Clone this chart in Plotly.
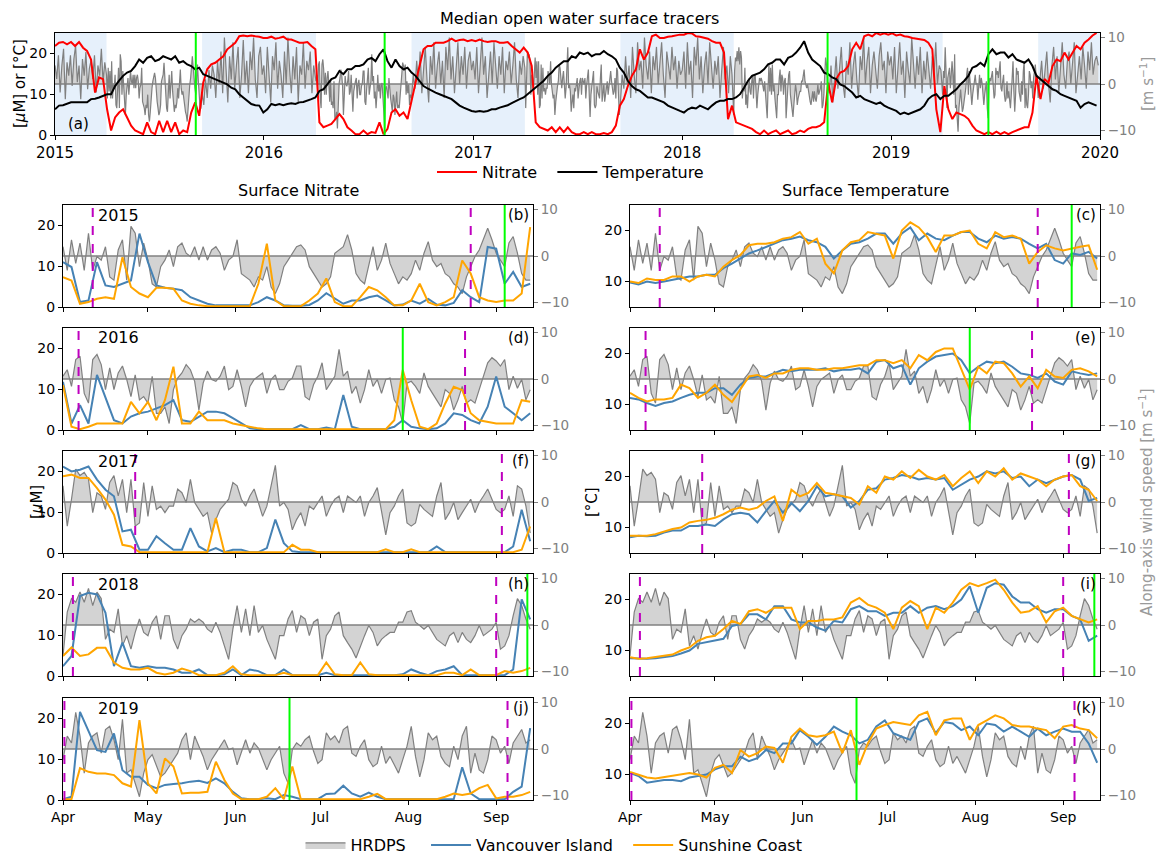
import pandas as pd
import plotly.graph_objects as go

# ---------------------------------------------------------------- data
YEARS = [2015, 2016, 2017, 2018, 2019]
YEAR_TICKS = [2015, 2016, 2017, 2018, 2019, 2020]
MONTH_LABELS = ["Apr", "May", "Jun", "Jul", "Aug", "Sep"]
MONTH_NUMS = [4, 5, 6, 7, 8, 9]

# top panel: weekly from 2015-01-01
TOP_NITRATE = [
    21.8, 22.6, 22.8, 22.2, 22.8, 21.8, 22.8, 21.4, 20.6, 18.5,
    10.4, 14.1, 13.7, 6.3, 1.1, 4.3, 5.5, 6.3, 4.3, 2.3,
    1.1, 0.7, 0.2, 3.1, 0.7, 0.2, 3.5, 0.7, 3.5, 0.7,
    3.1, 0.2, 1.1, 0.7, 5.5, 8.0, 4.7, 12.8, 16.1, 17.3,
    17.7, 18.5, 19.3, 21.0, 21.8, 22.6, 24.2, 24.4, 24.2, 24.4,
    24.2, 24.1, 23.8,
    23.8, 24.1, 23.6, 23.8, 24.1, 23.4, 23.4, 23.0, 22.6, 22.6,
    22.8, 21.8, 21.0, 3.1, 1.9, 2.3, 2.7, 3.9, 5.1, 3.9,
    1.9, 1.1, 0.2, 0.2, 1.1, 0.2, 0.7, 0.5, 3.1, 0.2,
    1.5, 5.5, 6.3, 4.7, 5.5, 3.9, 8.8, 12.8, 16.9, 21.0,
    21.8, 21.8, 22.6, 22.6, 22.6, 23.0, 23.6, 23.0, 23.3, 23.4,
    23.0, 23.3,
    23.0, 23.4, 23.0, 22.8, 23.0, 23.0, 22.6, 22.6, 22.8, 21.8,
    21.0, 20.2, 21.4, 20.2, 16.9, 3.1, 1.9, 1.5, 1.1, 1.9,
    0.7, 1.9, 0.7, 1.9, 0.7, 0.2, 0.2, 0.7, 0.2, 0.7,
    0.2, 0.2, 0.5, 0.2, 0.7, 2.3, 7.2, 8.8, 12.0, 14.5,
    16.1, 21.0, 18.5, 20.2, 24.2, 24.6, 23.8, 23.8, 24.1, 24.2,
    24.4, 24.6,
    24.6, 25.0, 24.9, 24.2, 24.1, 23.8, 23.6, 23.0, 22.6, 22.6,
    20.2, 3.9, 7.2, 3.1, 2.7, 2.3, 1.9, 1.5, 0.7, 0.2,
    1.1, 0.2, 0.7, 1.1, 0.2, 0.7, 1.1, 0.2, 0.5, 1.1,
    0.7, 1.5, 1.9, 1.9, 2.3, 3.1, 12.8, 8.0, 13.7, 15.3,
    15.7, 16.9, 21.0, 22.6, 21.0, 24.2, 24.6, 24.2, 25.0, 24.6,
    24.9, 24.6,
    24.9, 24.4, 24.6, 24.2, 24.1, 23.8, 23.6, 23.4, 23.3, 22.6,
    21.0, 6.3, 0.7, 12.0, 6.3, 3.9, 5.5, 5.1, 4.7, 3.9,
    2.3, 1.1, 0.7, 0.2, 0.7, 0.2, 0.8, 0.2, 0.7, 0.2,
    0.7, 1.1, 1.5, 1.9, 1.9, 5.5, 14.5, 8.8, 13.7, 12.8,
    16.9, 18.5, 18.1, 20.2, 18.5, 20.2, 21.8, 21.0, 22.6, 23.4,
    24.4, 25.0,
]
TOP_TEMPERATURE = [
    6.3, 7.2, 7.3, 7.6, 8.0, 8.0, 8.0, 8.1, 8.0, 8.8,
    8.9, 9.2, 9.6, 10.0, 10.0, 12.0, 13.3, 14.5, 15.3, 15.7,
    16.9, 18.5, 17.7, 18.9, 19.3, 18.1, 18.5, 19.3, 18.9, 18.5,
    19.3, 17.7, 18.1, 17.3, 16.9, 16.1, 16.5, 14.9, 14.5, 14.1,
    13.7, 13.3, 12.8, 12.4, 11.6, 11.2, 10.0, 9.2, 8.4, 7.6,
    7.3, 7.2, 5.5,
    6.3, 7.6, 7.3, 7.6, 7.3, 7.6, 7.8, 7.6, 8.0, 8.1,
    8.4, 8.8, 9.2, 10.8, 11.2, 12.4, 13.7, 14.1, 15.7, 14.9,
    16.1, 16.1, 16.9, 16.9, 17.3, 18.5, 18.9, 18.1, 19.8, 21.0,
    18.1, 16.5, 18.5, 16.9, 16.1, 16.5, 15.3, 14.5, 13.3, 12.0,
    11.4, 10.8, 10.4, 10.0, 9.6, 9.2, 8.8, 8.0, 7.2, 6.7,
    6.3, 5.9,
    5.7, 5.9, 5.7, 5.9, 6.3, 6.3, 6.7, 7.0, 7.3, 7.8,
    8.4, 8.8, 9.2, 10.0, 10.8, 11.6, 12.4, 13.3, 14.5, 15.3,
    16.5, 17.3, 18.1, 18.1, 19.3, 18.9, 20.2, 19.8, 20.2, 19.3,
    19.8, 19.8, 20.6, 19.8, 19.3, 18.5, 16.5, 15.3, 13.3, 12.0,
    11.2, 10.8, 10.0, 9.2, 9.2, 8.8, 8.4, 8.0, 7.2, 6.7,
    6.3, 5.9,
    5.5, 6.3, 6.7, 6.5, 7.2, 6.7, 6.3, 7.2, 8.0, 8.4,
    8.4, 8.8, 8.8, 9.2, 10.0, 11.6, 13.3, 14.5, 14.9, 15.3,
    16.1, 17.3, 17.7, 18.5, 18.5, 17.3, 18.9, 19.3, 20.2, 21.4,
    23.0, 20.2, 18.5, 17.7, 16.9, 15.3, 14.9, 14.1, 13.7, 12.4,
    12.0, 11.2, 10.4, 9.2, 9.6, 8.8, 8.4, 8.0, 7.6, 8.0,
    7.2, 6.7,
    6.3, 5.9, 5.1, 5.5, 5.1, 5.5, 5.9, 6.3, 7.2, 8.8,
    9.6, 10.0, 8.8, 9.6, 9.6, 10.4, 11.2, 12.4, 13.3, 14.5,
    16.5, 16.9, 17.7, 16.9, 19.8, 21.0, 19.8, 20.2, 20.2, 19.0,
    19.8, 18.5, 18.1, 17.7, 18.5, 16.9, 14.5, 13.7, 12.8, 12.0,
    11.2, 10.8, 10.0, 9.6, 9.2, 8.8, 8.4, 6.7, 7.6, 8.0,
    7.6, 7.2,
]

# HRDPS along-axis wind outside the Apr-Sep windows (3-day step)
WIND_2015_JAN_MAR = [4.0, 1.1, 6.2, -1.8, 4.0, 7.6, -3.3, 4.7, 1.8, 6.2, -0.4, 5.4, 8.3, 0.4, 4.0,
                     -3.3, 5.4, 1.8, 6.9, -1.1, 3.3, 5.1, 1.1, 6.2, -1.8, 4.0, 1.8, 7.6, 0.4, 4.7]
WIND_2015_SEP_DEC = [-2, -4.5, 1, -3, 3, -1, 4, 2, -3, 5, 0, 7, -2, 10, 3, -4, 6, 1, 9, -1,
                     4, 8, -3, 2, 9.5, 0, 5, -2, 7, 3, 10, 1, -3, 6, 8, 2]
WIND_2016_JAN_MAR = [4, -2, 8, 1, -4, 6, 3, 9, -1, 5, 2, -3, 7, 0, 10, 3, -2, 6, 1, 8,
                     -4, 4, 2, 9, -1, 5, 3, 7, -2, 4]
WIND_2016_SEP_DEC = [-3, 2, -1, 5, 0, 7, -2, 3, 8, 1, -4, 6, 2, 9, -1, 4, 7, 0, 5, -3,
                     8, 3, 10, 1, 6, -2, 4, 9, 0, 6, 2, 8, -1, 5, 7, 3]
WIND_2017_JAN_MAR = [5, 1, 8, -2, 4, 10, 2, 6, -3, 3, 7, 0, 9, 4, -1, 6, 2, 8, -2, 5,
                     3, 7, 0, 4, 9, 1, -3, 5, 2, 6]
WIND_2017_SEP_DEC = [-4, 2, -1, 6, 0, 4, -3, 8, 2, -2, 9, 3, 5, -1, 10, 4, 1, 7, -2, 6,
                     3, 8, 0, 5, 9, 2, -3, 7, 4, 1, 8, 3, 6, -1, 5, 2]
WIND_2018_JAN_MAR = [3, 7, -1, 9, 2, 5, -3, 8, 4, 10, 1, 6, -2, 4, 7, 0, 9, 3, -1, 5,
                     2, 6, -3, 3, 8, 1, 4, -2, 6, 2]
WIND_2018_SEP_DEC = [-2, 4, -4, 1, 6, -1, 3, 8, 0, -3, 5, 2, 9, -1, 4, 7, 1, -3, 6, 3,
                     10, 0, 5, 8, -2, 4, 7, 2, -1, 6, 9, 3, 5, -2, 7, 4]
WIND_2019_JAN_MAR = [6, 1, 8, -2, 4, 9, 2, 5, -3, 7, 3, 0, 10, 4, -1, 6, 2, 8, -2, 5,
                     1, 7, 3, -1, 6, 2, 9, 0, 4, 3]
WIND_2019_SEP_DEC = [-3, 2, 5, -1, 3, 7, 0, -4, 4, 8, 1, 6, -2, 3, 9, 2, -1, 5, 7, 0,
                     4, 9, -2, 3, 6, 1, 8, 4, -1, 7, 3, 9, 2, 5, 6, 4]

# HRDPS wind Apr 1 - Sep 14 (1.5-day step)
WIND_2015 = [
    2.0, -3.1, 3.5, -1.6, 2.8, -3.1, 4.9, -3.1, -0.1, -0.9,
    2.0, -4.5, -5.2, 1.3, 3.5, -5.2, 6.4, 4.9, -2.3, 2.8,
    -0.9, -6.0, -6.7, -2.3, -0.9, 1.3, -2.3, 2.0, 2.8, 0.6,
    -0.1, 2.0, -0.9, 2.0, -0.9, 1.3, 2.0, 0.6, -3.1, -0.9,
    -0.1, 3.5, -3.8, -4.5, -5.2, -6.7, -4.5, -5.2, -2.3, -6.7,
    -8.1, -6.0, -2.3, -0.9, 0.6, 2.0, 2.4, 1.3, -2.3, -3.8,
    -5.2, -6.7, -6.0, -4.5, 0.6, 1.3, 2.0, 4.6, 1.3, -3.8,
    -5.2, -6.0, -2.3, 2.0, -3.1, -0.9, 2.8, -1.6, -3.8, -6.0,
    -4.5, -5.2, -3.8, -0.9, -3.1, 0.6, 3.1, -0.9, -2.3, -1.6,
    -3.8, -4.5, -6.0, -6.7, -8.1, -4.5, -2.3, -0.1, 1.3, 3.5,
    6.0, 3.5, 0.6, -0.9, -2.3, 2.8, 4.2, 0.6, -3.8, -5.2,
    -5.2,
]
WIND_2016 = [
    0.6, 2.0, -1.6, 4.2, 4.9, -3.1, -5.2, 4.2, 5.3, 3.1,
    -2.3, 2.4, -2.3, 1.3, 2.8, -0.1, -3.8, 0.9, -4.5, -3.8,
    -5.2, 0.6, -7.4, -7.4, -6.0, -9.6, -2.3, 0.2, 1.3, 3.1,
    2.0, -0.5, -6.7, -0.9, 1.7, -0.1, -0.5, 0.6, 2.8, -2.3,
    -1.6, 2.0, -1.6, -6.0, -1.6, -0.1, 0.6, 1.3, -3.1, -0.1,
    0.9, -2.3, -2.3, -0.5, 0.2, 2.8, 2.8, -3.8, -4.5, -1.2,
    0.6, 3.5, -2.3, -0.9, 0.6, 6.4, 0.6, 1.7, -3.1, -1.6,
    -5.2, -2.3, 2.0, -1.6, -0.1, -3.1, -0.1, 0.2, -4.5, -6.0,
    -9.6, -0.9, -0.5, -1.6, -3.1, 1.3, -1.6, -3.1, -4.5, -6.0,
    -2.3, -3.1, -6.7, -4.5, -1.6, -5.2, -4.5, -5.2, -2.3, 0.6,
    3.5, 4.6, 3.9, 2.8, 4.2, -2.3, 0.6, -2.0, -0.1, -4.5,
    -2.3,
]
WIND_2017 = [
    3.5, -5.2, 0.6, 7.1, 5.7, 6.4, 4.9, -2.3, 2.0, 1.3,
    -1.6, 4.2, 5.7, 1.3, 4.9, -2.3, 4.9, -5.2, -4.5, 4.2,
    -3.1, 3.5, -1.6, -0.9, -2.3, -0.9, -0.9, 2.8, 2.0, -0.1,
    4.9, -0.1, -1.6, -3.1, -2.3, -6.7, -3.8, -1.6, -0.5, 0.6,
    4.2, 3.5, 0.6, -0.9, 1.3, 2.8, -0.1, -3.1, -0.9, 3.5,
    7.9, -0.9, -0.1, -1.6, -6.0, -3.8, -2.3, -5.2, -0.9, -1.6,
    -0.1, 1.3, -3.1, -0.9, 0.6, 1.3, -2.3, 1.3, 0.6, -0.1,
    1.3, -3.1, -0.1, 1.3, 3.1, -2.3, -7.1, -2.3, -0.9, 1.3,
    2.8, -4.5, -5.2, -4.5, -0.5, -1.6, -2.3, -3.1, 1.3, 4.2,
    -3.8, -2.3, -0.1, -3.8, -2.3, -0.9, 0.6, -2.3, -0.1, 1.3,
    2.8, 0.6, -1.6, -2.3, -1.6, 1.3, -3.1, 3.5, 2.8, -0.9,
    -6.7,
]
WIND_2018 = [
    -6.7, 2.8, 5.7, 4.9, 7.1, 4.9, 7.9, 4.2, 7.1, 5.7,
    -3.1, -0.9, -1.6, 3.5, -4.5, -2.3, -5.2, -1.6, 1.3, -1.6,
    -2.3, 0.6, 2.0, -3.1, 2.0, 2.0, -3.1, -5.2, -2.3, -0.9,
    1.3, 0.6, 1.3, 0.6, -0.9, -1.6, 0.6, -1.6, -4.5, -7.4,
    -0.9, 4.2, -1.6, 3.5, -2.3, 4.2, -1.6, -0.1, -3.1, -5.2,
    -7.4, -2.3, -2.3, 1.3, 3.1, -1.6, 2.0, 1.3, -2.3, 0.6,
    1.3, -7.4, -2.3, -0.9, 2.0, 2.8, -2.3, -3.8, -5.2, -7.1,
    -4.5, -2.3, -0.1, -1.6, -4.5, -3.1, -2.3, -1.6, -1.6, 0.6,
    0.6, 2.8, 3.1, 0.6, -0.1, -0.9, -0.1, -1.6, -3.1, -3.8,
    -4.5, -2.3, -1.6, -3.8, -1.6, -3.1, -3.8, -2.3, -0.1, -2.3,
    -1.6, -0.9, 0.6, -5.2, -4.5, -2.3, 2.0, 5.7, 4.2, 1.3,
    -0.9,
]
WIND_2019 = [
    -2.3, 2.8, 1.3, 7.9, 2.8, -5.2, 1.3, 2.8, 3.5, -0.9,
    4.2, 4.9, 2.0, -2.3, 6.4, -5.2, -4.5, -7.4, -10.3, -5.2,
    -2.3, -1.2, -3.8, -6.0, -5.2, -3.8, -2.3, -0.9, 2.0, 3.5,
    -2.3, 2.8, 0.6, -1.6, -4.5, -2.3, -0.9, 0.6, 2.0, -0.1,
    0.2, -3.4, -0.5, 2.0, -0.9, 1.3, 0.2, -2.3, -4.5, -2.3,
    -0.9, 0.6, -5.2, -7.4, -0.1, 1.3, 0.6, 2.0, 2.8, -0.5,
    -3.1, -2.3, 3.5, 2.0, 2.8, 1.3, 4.2, 4.9, -0.9, -1.6,
    0.6, 2.0, -2.3, -3.8, -3.1, 0.6, -3.1, -1.6, -3.4, -5.2,
    -2.3, 0.6, 4.9, -1.6, -6.0, -2.3, 3.5, 2.0, 2.8, -1.6,
    -3.1, -3.8, 0.6, -2.3, 2.8, 4.9, -5.2, -0.9, -4.5, -5.2,
    -2.3, 2.8, 2.0, -0.9, 0.6, -3.1, 1.3, 2.8, 4.2, 1.3,
    2.0,
]

# surface nitrate [uM], 3-day step from Apr 1
NO3_VI_2015 = [11.0, 9.8, 1.2, 1.6, 11.0, 5.3, 4.9, 5.7, 6.5, 18.0,
               11.0, 5.3, 4.7, 4.5, 4.1, 2.4, 1.6, 0.8, 0.4, 0.4,
               0.4, 0.4, 0.4, 1.2, 2.4, 1.6, 0.4, 0.3, 0.3, 0.5,
               1.6, 3.4, 2.0, 0.8, 1.6, 1.6, 2.4, 2.8, 1.6, 0.4,
               0.6, 1.6, 0.8, 2.0, 0.6, 0.4, 1.0, 4.1, 2.4, 1.2,
               14.7, 14.3, 5.7, 8.6, 4.9, 5.7]
NO3_SC_2015 = [7.3, 6.5, 0.8, 1.2, 2.0, 2.4, 2.0, 12.2, 4.9, 3.3,
               2.4, 4.7, 4.7, 4.5, 1.6, 0.8, 0.4, 0.2, 0.2, 0.2,
               0.2, 0.2, 0.2, 5.7, 15.5, 1.6, 0.2, 0.2, 0.2, 1.6,
               3.3, 7.0, 1.2, 0.2, 0.2, 2.4, 4.9, 4.1, 2.4, 0.4,
               0.4, 1.6, 5.7, 1.2, 0.4, 1.2, 2.4, 11.4, 8.2, 2.4,
               1.6, 1.2, 1.6, 1.6, 3.3, 19.6]
NO3_VI_2016 = [11.8, 1.6, 6.1, 1.6, 13.5, 7.8, 2.4, 1.6, 3.3, 4.1,
               4.5, 5.3, 6.1, 7.3, 2.4, 2.0, 3.3, 4.5, 4.5, 4.1,
               2.9, 1.6, 0.4, 0.2, 0.2, 0.2, 0.2, 0.2, 1.2, 0.2,
               0.2, 0.6, 0.2, 8.6, 0.8, 0.2, 0.2, 0.2, 0.2, 0.8,
               2.4, 0.8, 0.4, 0.2, 0.4, 1.6, 4.1, 3.7, 2.4, 1.6,
               5.7, 13.1, 5.7, 4.1, 2.4, 4.1]
NO3_SC_2016 = [11.0, 0.8, 0.2, 0.8, 1.6, 1.6, 1.6, 1.6, 6.9, 4.1,
               6.9, 2.4, 7.3, 15.5, 1.6, 1.6, 4.5, 2.4, 2.4, 2.4,
               1.6, 1.2, 0.8, 0.4, 0.2, 0.2, 0.2, 0.2, 0.2, 0.2,
               0.2, 0.2, 0.2, 0.2, 0.2, 0.2, 0.2, 0.2, 0.2, 2.4,
               14.7, 7.3, 0.8, 0.2, 1.6, 6.5, 10.6, 9.8, 4.1, 2.4,
               2.0, 1.6, 1.6, 1.6, 7.3, 6.9]
NO3_VI_2017 = [21.2, 20.0, 20.4, 21.2, 18.0, 15.5, 13.9, 5.3, 5.7, 0.8,
               0.8, 4.1, 2.4, 0.8, 0.8, 6.1, 1.6, 0.4, 1.2, 0.2,
               0.8, 0.8, 0.2, 0.2, 1.2, 8.2, 2.4, 0.4, 0.2, 0.2,
               0.2, 0.2, 0.2, 0.2, 0.2, 0.2, 0.2, 0.2, 0.2, 0.2,
               0.2, 0.2, 0.2, 0.2, 1.6, 0.2, 0.2, 0.2, 0.2, 0.2,
               0.2, 0.2, 0.2, 1.6, 10.6, 2.9]
NO3_SC_2017 = [18.8, 19.2, 18.4, 18.4, 15.9, 13.1, 9.4, 2.0, 1.6, 0.2,
               0.2, 0.2, 0.2, 0.2, 0.2, 0.2, 0.2, 0.2, 8.6, 0.2,
               0.2, 0.2, 0.2, 0.2, 0.2, 0.2, 0.2, 2.0, 0.8, 0.8,
               0.2, 0.2, 0.2, 0.2, 0.2, 0.2, 0.2, 0.2, 0.9, 0.2,
               0.2, 0.9, 0.2, 0.2, 0.2, 0.2, 0.2, 0.2, 0.2, 0.2,
               0.2, 0.2, 0.2, 0.2, 0.8, 6.5]
NO3_VI_2018 = [2.4, 4.9, 19.6, 20.4, 20.0, 15.5, 2.4, 8.2, 2.4, 2.0,
               2.4, 2.0, 2.0, 1.6, 0.8, 0.8, 1.6, 0.2, 0.2, 0.4,
               1.6, 0.2, 1.6, 1.2, 0.2, 0.2, 1.6, 0.2, 0.2, 0.2,
               0.2, 0.8, 0.2, 0.2, 0.2, 0.2, 0.2, 0.2, 0.2, 0.2,
               0.4, 1.6, 0.8, 0.2, 1.2, 1.6, 2.4, 0.2, 0.2, 0.2,
               0.2, 0.2, 0.2, 1.6, 18.8, 13.9]
NO3_SC_2018 = [4.9, 7.0, 4.9, 5.3, 6.9, 6.9, 3.3, 2.0, 1.6, 1.6,
               2.0, 0.8, 0.4, 0.8, 1.8, 1.2, 0.2, 0.2, 0.2, 0.8,
               2.4, 0.4, 0.2, 0.2, 0.2, 0.2, 0.8, 0.2, 0.2, 0.2,
               0.2, 3.3, 0.4, 0.2, 0.2, 3.3, 0.4, 0.2, 0.2, 0.2,
               0.2, 0.2, 0.2, 0.2, 0.2, 0.8, 0.8, 0.2, 1.6, 0.2,
               0.2, 0.2, 1.2, 0.8, 1.2, 2.0]
NO3_VI_2019 = [0.2, 0.8, 21.6, 17.1, 12.2, 11.8, 16.3, 7.3, 5.7, 5.7,
               3.7, 2.9, 3.7, 3.9, 4.1, 4.5, 4.7, 4.2, 5.3, 4.1,
               2.0, 0.4, 0.2, 0.2, 0.4, 0.2, 1.2, 0.8, 0.2, 0.2,
               0.2, 1.5, 1.6, 3.5, 1.6, 0.8, 1.8, 0.8, 0.2, 0.2,
               0.2, 0.2, 0.2, 0.2, 0.2, 0.2, 0.2, 8.0, 1.6, 0.2,
               0.2, 0.2, 0.2, 2.0, 3.3, 17.6]
NO3_SC_2019 = [0.2, 0.2, 7.8, 6.9, 6.5, 6.5, 6.1, 4.1, 3.3, 19.6,
               4.1, 1.6, 10.2, 8.2, 1.6, 1.8, 1.8, 2.0, 9.4, 4.9,
               1.6, 0.2, 0.2, 0.2, 0.8, 2.9, 0.2, 8.2, 0.2, 0.2,
               0.2, 0.2, 0.2, 0.2, 0.2, 0.2, 0.8, 1.5, 0.2, 0.2,
               0.2, 0.2, 0.2, 0.2, 0.2, 0.8, 1.6, 1.2, 1.6, 2.9,
               3.7, 0.4, 0.8, 0.8, 1.2, 2.0]

# surface temperature [degC], 3-day step from Apr 1
TEMP_VI_2015 = [9.8, 9.4, 10.0, 9.7, 10.0, 10.3, 10.6, 11.0, 11.0, 11.3,
                11.3, 12.6, 13.5, 14.5, 15.5, 16.1, 16.8, 17.4, 18.1, 18.4,
                18.8, 18.1, 17.7, 16.8, 14.5, 16.1, 17.4, 17.7, 18.4, 19.4,
                19.4, 17.4, 19.4, 20.6, 18.1, 19.4, 18.4, 18.1, 19.0, 19.7,
                19.7, 18.4, 17.7, 19.0, 18.4, 18.7, 18.4, 17.4, 16.5, 17.4,
                14.2, 13.5, 15.5, 15.2, 15.8, 14.5]
TEMP_SC_2015 = [10.0, 9.7, 10.6, 10.3, 10.3, 11.0, 11.0, 10.0, 11.0, 11.3,
                11.0, 12.9, 14.2, 15.2, 17.1, 17.4, 17.4, 17.7, 18.4, 18.7,
                19.7, 17.4, 18.4, 13.5, 11.6, 16.1, 17.7, 18.1, 19.7, 19.4,
                19.0, 14.5, 20.0, 21.6, 20.6, 18.7, 15.8, 19.0, 19.0, 19.7,
                20.0, 17.4, 16.5, 19.7, 18.7, 19.0, 18.4, 13.5, 15.8, 17.1,
                16.5, 16.1, 16.5, 16.8, 17.1, 12.3]
TEMP_VI_2016 = [11.3, 11.0, 10.3, 9.7, 10.3, 10.6, 11.3, 11.9, 12.3, 12.3,
                13.2, 13.2, 11.9, 13.9, 15.2, 15.5, 15.5, 16.1, 16.8, 16.5,
                16.8, 16.8, 16.8, 17.1, 16.5, 16.8, 16.8, 17.1, 16.1, 18.4,
                18.7, 17.1, 17.7, 13.9, 17.1, 18.4, 19.4, 19.7, 20.0, 18.7,
                16.1, 17.4, 18.4, 18.1, 18.4, 17.4, 16.1, 15.8, 15.2, 16.1,
                14.5, 13.9, 16.5, 16.1, 15.8, 16.1]
TEMP_SC_2016 = [12.3, 11.3, 10.6, 11.0, 11.0, 11.3, 13.9, 13.2, 11.3, 12.3,
                13.9, 11.9, 10.5, 12.9, 15.5, 15.8, 15.2, 16.1, 16.1, 16.8,
                17.1, 17.1, 16.8, 16.8, 17.1, 17.1, 17.4, 17.7, 17.7, 18.7,
                18.7, 18.1, 18.7, 17.1, 19.7, 18.7, 20.3, 21.0, 21.0, 16.8,
                12.9, 17.4, 16.1, 18.4, 18.1, 16.1, 13.5, 15.5, 13.2, 16.8,
                15.5, 15.2, 16.8, 17.1, 16.5, 15.5]
TEMP_VI_2017 = [8.1, 8.4, 8.3, 8.4, 9.0, 9.4, 9.4, 10.3, 10.3, 10.6,
                10.3, 11.6, 12.6, 12.9, 12.6, 11.0, 13.2, 15.2, 12.9, 14.8,
                13.2, 15.2, 18.1, 16.1, 16.5, 16.1, 13.9, 15.2, 17.4, 17.7,
                19.4, 19.7, 20.3, 20.0, 19.4, 19.7, 19.4, 19.7, 17.4, 18.4,
                19.4, 20.0, 21.0, 20.6, 21.0, 19.7, 20.0, 18.1, 19.4, 18.7,
                19.4, 20.0, 20.3, 19.4, 15.2, 15.8]
TEMP_SC_2017 = [8.4, 8.4, 8.4, 8.7, 9.2, 9.7, 10.0, 11.0, 11.3, 11.5,
                11.9, 12.6, 13.5, 13.9, 13.5, 13.9, 15.2, 16.1, 11.3, 17.4,
                16.1, 16.8, 18.7, 16.8, 16.5, 16.1, 15.8, 14.5, 18.1, 16.8,
                20.0, 19.4, 21.0, 19.7, 21.3, 20.0, 19.4, 20.3, 18.1, 19.7,
                21.0, 18.7, 21.0, 20.0, 21.6, 19.4, 20.6, 20.0, 19.4, 18.1,
                19.4, 20.0, 20.3, 18.1, 17.4, 15.2]
TEMP_VI_2018 = [8.5, 8.4, 8.4, 8.5, 8.7, 8.9, 9.4, 10.0, 11.3, 11.6,
                11.9, 12.3, 14.8, 15.2, 17.1, 17.1, 16.1, 18.7, 18.7, 16.1,
                15.5, 15.5, 14.5, 13.9, 15.8, 15.5, 18.1, 18.7, 17.7, 17.7,
                16.8, 17.4, 17.4, 18.7, 17.4, 18.4, 18.7, 18.1, 18.7, 20.0,
                22.6, 17.4, 22.3, 23.2, 22.9, 20.6, 19.4, 19.4, 18.1, 17.4,
                18.1, 18.1, 16.8, 16.1, 11.9, 12.9]
TEMP_SC_2018 = [8.7, 8.4, 8.5, 8.7, 8.9, 9.2, 10.0, 10.6, 11.9, 12.6,
                12.9, 14.2, 15.8, 15.2, 17.7, 18.1, 17.4, 18.4, 18.4, 18.4,
                14.2, 15.8, 15.8, 16.1, 16.1, 16.5, 19.4, 20.3, 19.0, 18.4,
                17.4, 14.2, 18.4, 19.7, 18.7, 14.2, 18.4, 17.4, 19.4, 21.9,
                23.2, 22.6, 23.2, 23.9, 21.9, 19.4, 17.4, 17.7, 18.7, 15.5,
                17.7, 18.4, 16.8, 16.1, 15.5, 16.1]
TEMP_VI_2019 = [10.3, 9.7, 8.4, 8.7, 8.9, 8.9, 8.7, 9.4, 9.7, 10.0,
                11.0, 11.6, 11.6, 13.5, 12.6, 13.2, 14.8, 14.2, 16.1, 16.1,
                18.7, 17.4, 15.8, 17.4, 19.4, 18.4, 17.7, 16.1, 16.8, 19.4,
                20.6, 18.1, 17.4, 16.8, 20.3, 21.0, 18.1, 20.3, 20.0, 18.7,
                19.4, 17.7, 20.0, 19.7, 18.4, 19.4, 18.4, 17.4, 19.0, 17.7,
                18.4, 19.0, 18.4, 18.4, 16.1, 12.3]
TEMP_SC_2019 = [10.5, 10.0, 9.4, 9.2, 9.5, 9.7, 10.0, 10.3, 10.0, 9.4,
                11.3, 11.9, 10.3, 14.8, 13.5, 14.2, 15.5, 15.2, 12.3, 17.4,
                19.0, 17.7, 17.4, 17.7, 18.4, 14.2, 18.7, 11.9, 16.1, 19.0,
                19.7, 20.3, 20.0, 19.7, 21.6, 22.3, 17.7, 20.6, 21.0, 21.0,
                16.8, 19.7, 20.6, 21.6, 21.0, 19.7, 19.4, 19.4, 19.0, 18.7,
                17.1, 19.4, 19.7, 19.0, 18.7, 17.1]

MAGENTA_2015 = ["2015-04-11 12:00", "2015-08-23"]
MAGENTA_2016 = ["2016-04-06 12:00", "2016-08-21"]
MAGENTA_2017 = ["2017-04-26 12:00", "2017-09-03"]
MAGENTA_2018 = ["2018-04-04 12:00", "2018-09-01"]
MAGENTA_2019 = ["2019-04-01 12:00", "2019-09-05"]
GREEN_DATES = ["2015-09-04", "2016-07-30", "2018-09-12", "2019-06-20"]
SHADE_START = ["2015-01-01", "2015-09-15", "2016-09-15", "2017-09-15", "2018-09-15", "2019-09-15"]
SHADE_END = ["2015-04-01", "2016-04-01", "2017-04-01", "2018-04-01", "2019-04-01", "2020-01-01"]

WIND_SUB = {2015: WIND_2015, 2016: WIND_2016, 2017: WIND_2017, 2018: WIND_2018, 2019: WIND_2019}
WIND_JM = {2015: WIND_2015_JAN_MAR, 2016: WIND_2016_JAN_MAR, 2017: WIND_2017_JAN_MAR,
           2018: WIND_2018_JAN_MAR, 2019: WIND_2019_JAN_MAR}
WIND_SD = {2015: WIND_2015_SEP_DEC, 2016: WIND_2016_SEP_DEC, 2017: WIND_2017_SEP_DEC,
           2018: WIND_2018_SEP_DEC, 2019: WIND_2019_SEP_DEC}
NO3_VI = {2015: NO3_VI_2015, 2016: NO3_VI_2016, 2017: NO3_VI_2017, 2018: NO3_VI_2018, 2019: NO3_VI_2019}
NO3_SC = {2015: NO3_SC_2015, 2016: NO3_SC_2016, 2017: NO3_SC_2017, 2018: NO3_SC_2018, 2019: NO3_SC_2019}
TEMP_VI = {2015: TEMP_VI_2015, 2016: TEMP_VI_2016, 2017: TEMP_VI_2017, 2018: TEMP_VI_2018, 2019: TEMP_VI_2019}
TEMP_SC = {2015: TEMP_SC_2015, 2016: TEMP_SC_2016, 2017: TEMP_SC_2017, 2018: TEMP_SC_2018, 2019: TEMP_SC_2019}
MAGENTA = {2015: MAGENTA_2015, 2016: MAGENTA_2016, 2017: MAGENTA_2017, 2018: MAGENTA_2018, 2019: MAGENTA_2019}

# ---------------------------------------------------------------- style / layout
# the page body has an 8 px margin, so the figure is drawn 8 px in from the window corner
OFF = 8
W, H = 1164 - OFF, 856 - OFF
FONT = "DejaVu Sans"
GRAY = "#808080"
LABEL_GRAY = "#9a9a9a"
FILL = "#d3d3d3"
BLUE = "#4682b4"
ORANGE = "#ffa500"
SHADE = "#e6f0fb"
LIME = "#00ff00"
MAG = "#bf00bf"
NB = "\u00a0"


def px(p):
    return (p - OFF) / W


def py(p):
    return 1 - (p - OFF) / H


def xd(a, b):
    return [px(a), px(b)]


def yd(top, bottom):
    return [py(bottom), py(top)]


fig = go.Figure()
layout = {}
shapes = []
ann = []

xbase = dict(showline=True, linecolor="black", linewidth=1, mirror=True, ticks="outside",
             ticklen=4, tickcolor="black", showgrid=False, zeroline=False, type="date",
             automargin=False, tickfont=dict(size=14, color="black"))


def wind_axis(xname, dom):
    return dict(side="right", range=[-11, 11], tickvals=[-10, 0, 10], ticktext=["\u221210", "0", "10"],
                tickfont=dict(size=13.5, color=GRAY), ticks="outside", ticklen=4, tickcolor=GRAY,
                showline=True, linecolor="black", linewidth=1, mirror=True, showgrid=False,
                zeroline=False, anchor=xname, domain=dom, automargin=False)


def value_axis(xname, overl, rng, tv):
    return dict(side="left", overlaying=overl, range=rng, tickvals=tv,
                tickfont=dict(size=14, color="black"), ticks="outside", ticklen=4, tickcolor="black",
                showline=False, showgrid=False, zeroline=False, anchor=xname, automargin=False)


# ------------------------------------------------ top panel (a)
top_dates = pd.date_range("2015-01-01", periods=len(TOP_NITRATE), freq="7D")
wx, wy = [], []
for yr in YEARS:
    wx += list(pd.date_range(f"{yr}-01-01", periods=len(WIND_JM[yr]), freq="3D")); wy += WIND_JM[yr]
    wx += list(pd.date_range(f"{yr}-04-01", periods=len(WIND_SUB[yr]), freq="36h")); wy += WIND_SUB[yr]
    wx += list(pd.date_range(f"{yr}-09-15", periods=len(WIND_SD[yr]), freq="3D")); wy += WIND_SD[yr]

fig.add_trace(go.Scatter(x=wx, y=wy, xaxis="x", yaxis="y", mode="lines", fill="tozeroy",
                         fillcolor=FILL, line=dict(color=GRAY, width=1.2), showlegend=False,
                         hoverinfo="skip"))
fig.add_trace(go.Scatter(x=["2015-01-01", "2020-01-01"], y=[0, 0], xaxis="x", yaxis="y", mode="lines",
                         line=dict(color=GRAY, width=1.5), showlegend=False, hoverinfo="skip"))
fig.add_trace(go.Scatter(x=top_dates, y=TOP_NITRATE, xaxis="x", yaxis="y2", mode="lines",
                         line=dict(color="red", width=2), name="Nitrate" + NB * 2, legend="legend"))
fig.add_trace(go.Scatter(x=top_dates, y=TOP_TEMPERATURE, xaxis="x", yaxis="y2", mode="lines",
                         line=dict(color="black", width=2), name="Temperature", legend="legend"))

top_dom_x = xd(55, 1100)
top_dom_y = yd(33, 135)
layout["xaxis"] = dict(xbase, domain=top_dom_x, anchor="y", range=["2015-01-01", "2020-01-01"],
                       tickvals=[f"{y}-01-01" for y in YEAR_TICKS], ticktext=[str(y) for y in YEAR_TICKS],
                       tickfont=dict(size=15, color="black"))
layout["yaxis"] = wind_axis("x", top_dom_y)
layout["yaxis2"] = value_axis("x", "y", [0, 25], [0, 10, 20])

for s0, s1 in zip(SHADE_START, SHADE_END):
    shapes.append(dict(type="rect", xref="x", yref="y domain", x0=s0, x1=s1, y0=0, y1=1,
                       fillcolor=SHADE, line=dict(width=0), layer="below"))
for g in GREEN_DATES:
    shapes.append(dict(type="line", xref="x", yref="y domain", x0=g, x1=g, y0=0, y1=1,
                       line=dict(color=LIME, width=2), layer="above"))

ann.append(dict(text="Median open water surface tracers", x=px(579), y=py(19), xref="paper", yref="paper",
                showarrow=False, font=dict(size=16, color="black"), xanchor="center", yanchor="middle"))
ann.append(dict(text="(a)", x=px(66), y=py(124), xref="paper", yref="paper", showarrow=False,
                font=dict(size=15, color="black"), xanchor="left", yanchor="middle"))
ann.append(dict(text="[<i>\u03bc</i>M] or [\u00b0C]", x=px(20), y=py(84), xref="paper", yref="paper",
                showarrow=False, textangle=-90, font=dict(size=15, color="black"),
                xanchor="center", yanchor="middle"))
ann.append(dict(text="[m s<sup>\u22121</sup>]", x=px(1147), y=py(84), xref="paper", yref="paper",
                showarrow=False, textangle=-90, font=dict(size=15, color=LABEL_GRAY),
                xanchor="center", yanchor="middle"))

# ------------------------------------------------ sub panels
ROW_TOP = [205, 328, 451, 574, 698]
ROW_H = 102
COLS = [(63, 533), (630, 1100)]
LETTERS = ["b", "c", "d", "e", "f", "g", "h", "i", "j", "k"]
LEGEND_NAMES = ["HRDPS" + NB * 3, "Vancouver Island" + NB * 2, "Sunshine Coast"]

for r, yr in enumerate(YEARS):
    d3 = pd.date_range(f"{yr}-04-01", periods=len(NO3_VI[yr]), freq="3D")
    d15 = pd.date_range(f"{yr}-04-01", periods=len(WIND_SUB[yr]), freq="36h")
    x0, x1 = f"{yr}-04-01", f"{yr}-09-14"
    for c in range(2):
        i = r * 2 + c
        xn = f"x{i + 2}"
        wn = f"y{2 * i + 3}"
        vn = f"y{2 * i + 4}"
        first = (i == 0)
        dom_x = xd(*COLS[c])
        dom_y = yd(ROW_TOP[r], ROW_TOP[r] + ROW_H)

        fig.add_trace(go.Scatter(x=d15, y=WIND_SUB[yr], xaxis=xn, yaxis=wn, mode="lines", fill="tozeroy",
                                 fillcolor=FILL, line=dict(color=GRAY, width=1.2), name=LEGEND_NAMES[0],
                                 legend="legend2", showlegend=first, hoverinfo="skip"))
        fig.add_trace(go.Scatter(x=[x0, x1], y=[0, 0], xaxis=xn, yaxis=wn, mode="lines",
                                 line=dict(color=GRAY, width=1.5), showlegend=False, hoverinfo="skip"))
        vi = NO3_VI[yr] if c == 0 else TEMP_VI[yr]
        sc = NO3_SC[yr] if c == 0 else TEMP_SC[yr]
        fig.add_trace(go.Scatter(x=d3, y=vi, xaxis=xn, yaxis=vn, mode="lines",
                                 line=dict(color=BLUE, width=2), name=LEGEND_NAMES[1],
                                 legend="legend2", showlegend=first))
        fig.add_trace(go.Scatter(x=d3, y=sc, xaxis=xn, yaxis=vn, mode="lines",
                                 line=dict(color=ORANGE, width=2), name=LEGEND_NAMES[2],
                                 legend="legend2", showlegend=first))

        bottom = (r == len(YEARS) - 1)
        layout[f"xaxis{i + 2}"] = dict(xbase, domain=dom_x, anchor=wn, range=[x0, x1],
                                       tickvals=[f"{yr}-{m:02d}-01" for m in MONTH_NUMS],
                                       ticktext=MONTH_LABELS, showticklabels=bottom)
        layout[f"yaxis{2 * i + 3}"] = wind_axis(xn, dom_y)
        if c == 0:
            layout[f"yaxis{2 * i + 4}"] = value_axis(xn, wn, [0, 25], [0, 10, 20])
        else:
            layout[f"yaxis{2 * i + 4}"] = value_axis(xn, wn, [5, 25], [10, 20])

        for m in MAGENTA[yr]:
            shapes.append(dict(type="line", xref=xn, yref=f"{wn} domain", x0=m, x1=m, y0=0, y1=1,
                               line=dict(color=MAG, width=2, dash="dash"), layer="above"))
        for g in GREEN_DATES:
            if g.startswith(str(yr)):
                shapes.append(dict(type="line", xref=xn, yref=f"{wn} domain", x0=g, x1=g, y0=0, y1=1,
                                   line=dict(color=LIME, width=2), layer="above"))

        ann.append(dict(text=f"({LETTERS[i]})", x=px(COLS[c][1] - 2), y=py(ROW_TOP[r] + 10),
                        xref="paper", yref="paper", showarrow=False, font=dict(size=15, color="black"),
                        xanchor="right", yanchor="middle"))
        if c == 0:
            ann.append(dict(text=str(yr), x=px(96), y=py(ROW_TOP[r] + 10), xref="paper", yref="paper",
                            showarrow=False, font=dict(size=16, color="black"),
                            xanchor="left", yanchor="middle"))

ann.append(dict(text="Surface Nitrate", x=px(298), y=py(190), xref="paper", yref="paper", showarrow=False,
                font=dict(size=16, color="black"), xanchor="center", yanchor="middle"))
ann.append(dict(text="Surface Temperature", x=px(865), y=py(190), xref="paper", yref="paper",
                showarrow=False, font=dict(size=16, color="black"), xanchor="center", yanchor="middle"))
ann.append(dict(text="[<i>\u03bc</i>M]", x=px(37), y=py(502), xref="paper", yref="paper", showarrow=False,
                textangle=-90, font=dict(size=15, color="black"), xanchor="center", yanchor="middle"))
ann.append(dict(text="[\u00b0C]", x=px(592), y=py(502), xref="paper", yref="paper", showarrow=False,
                textangle=-90, font=dict(size=15, color="black"), xanchor="center", yanchor="middle"))
ann.append(dict(text="Along-axis wind speed [m s<sup>\u22121</sup>]", x=px(1146), y=py(502),
                xref="paper", yref="paper", showarrow=False, textangle=-90,
                font=dict(size=15, color=LABEL_GRAY), xanchor="center", yanchor="middle"))

fig.update_layout(
    width=W, height=H, autosize=False,
    margin=dict(l=0, r=0, t=0, b=0, pad=0, autoexpand=False),
    paper_bgcolor="white", plot_bgcolor="white",
    font=dict(family=FONT, size=14, color="black"),
    shapes=shapes, annotations=ann,
    legend=dict(orientation="h", x=px(571), y=py(172), xanchor="center", yanchor="middle",
                font=dict(size=16), bgcolor="rgba(0,0,0,0)", itemwidth=40),
    legend2=dict(orientation="h", x=px(554), y=py(845), xanchor="center", yanchor="middle",
                 font=dict(size=16), bgcolor="rgba(0,0,0,0)", itemwidth=40),
    **layout,
)

fig.write_html("out.html")
